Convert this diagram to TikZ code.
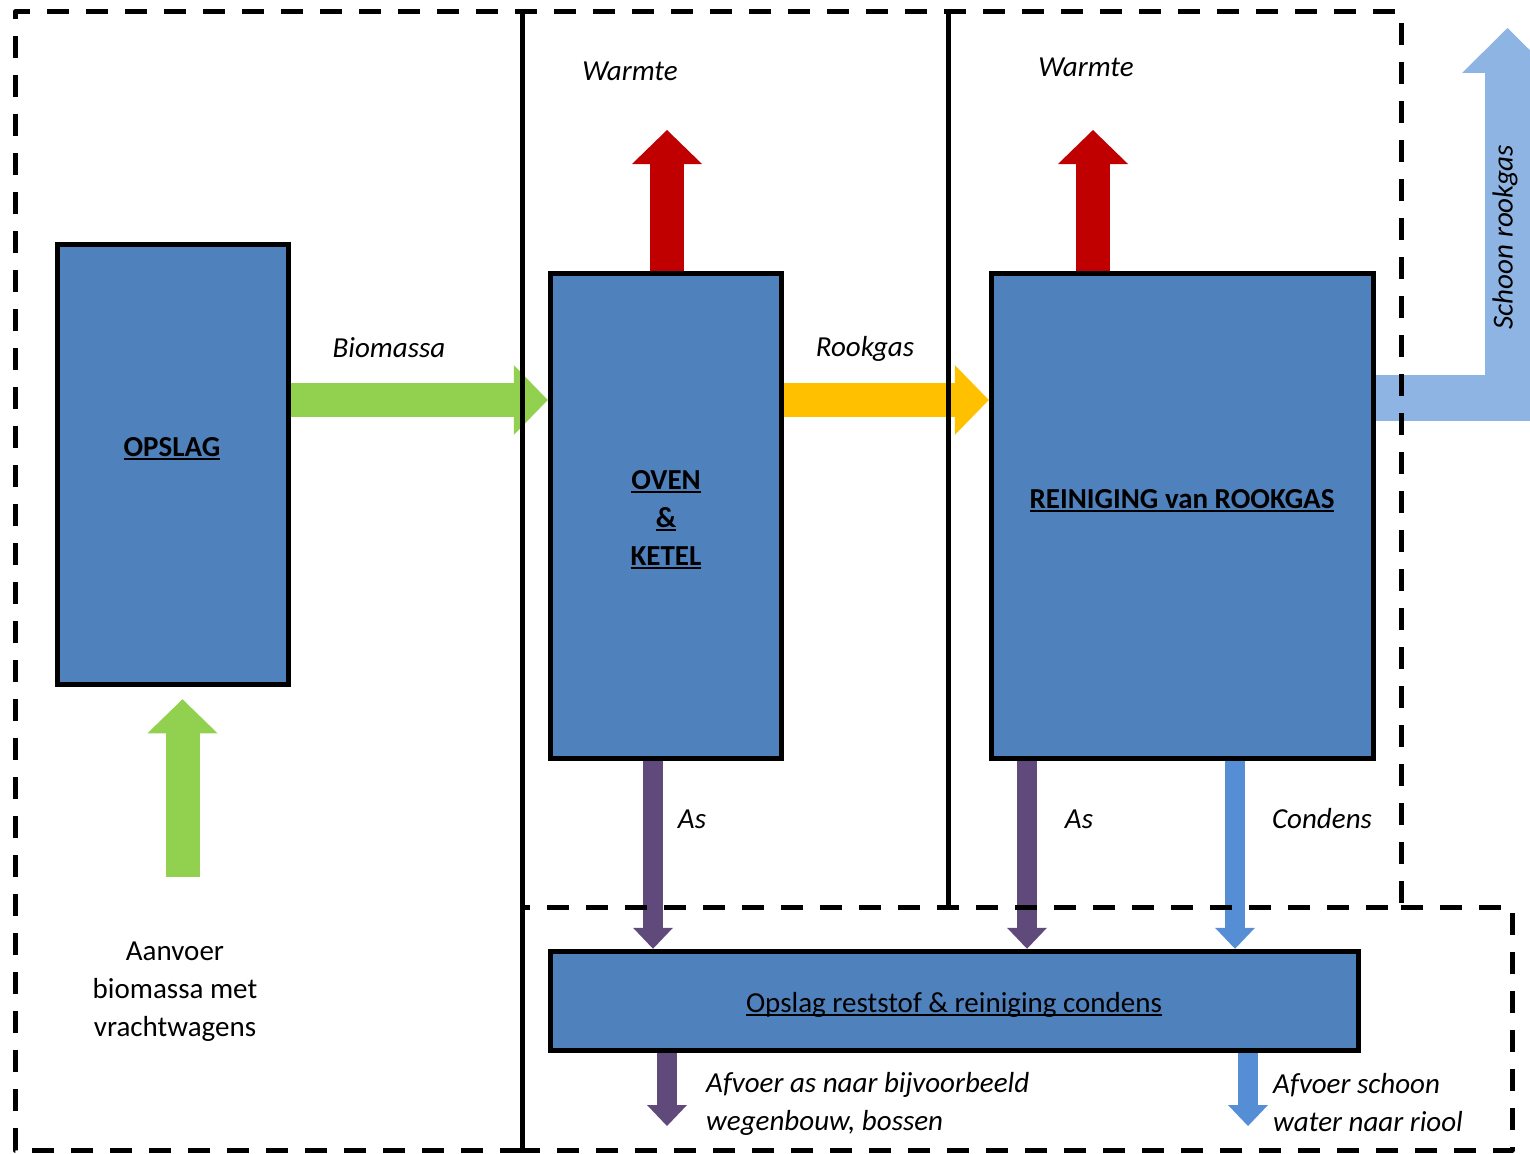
\documentclass[tikz,border=0pt]{standalone}
\usepackage{fontspec}
\setmainfont{Carlito}
\usetikzlibrary{arrows.meta,calc}
\pgfdeclarelayer{bg}
\pgfsetlayers{bg,main}
\definecolor{boxblue}{HTML}{4F81BD}
\definecolor{biogreen}{HTML}{92D050}
\definecolor{gasyellow}{HTML}{FFC000}
\definecolor{heatred}{HTML}{C00000}
\definecolor{ashpurple}{HTML}{604A7B}
\definecolor{cleanblue}{HTML}{8EB4E3}
\definecolor{condblue}{HTML}{558ED5}
\newcommand\ulbox[1]{\setbox0\hbox{#1}\makebox[0pt][l]{\rule[-0.12em]{\wd0}{0.07em}}\box0}
\tikzset{
  procbox/.style={draw=black, line width=5.5pt, fill=boxblue, inner sep=0pt},
  lbl/.style={inner sep=0pt, text=black, font=\fontsize{29}{38}\selectfont},
  ilbl/.style={lbl, font=\fontsize{29}{38}\selectfont\itshape},
  blbl/.style={lbl, font=\fontsize{29}{38}\selectfont\bfseries},
  bigarrow/.style={line width=34pt, arrows={-Triangle[length=34pt,width=70pt,line width=0pt]}},
  smallarrow/.style={line width=20pt, arrows={-Triangle[length=21pt,width=40pt,line width=0pt]}},
  exhaust/.style={line width=46pt, line join=miter, arrows={-Triangle[length=45pt,width=91pt,line width=0pt]}},
  dashline/.style={line width=5pt, dash pattern=on 22pt off 17pt, line join=round},
  solidline/.style={line width=5pt}
}
\begin{document}
\begin{tikzpicture}[x=1pt,y=-1pt]
\useasboundingbox (0,0) rectangle (1530,1153);
% boxes
\node[procbox, minimum width=231pt, minimum height=440pt] (opslag) at (173,464.5) {};
\node[procbox, minimum width=231pt, minimum height=485pt] (oven) at (666,516) {};
\node[procbox, minimum width=382pt, minimum height=485pt] (rein) at (1182.5,516) {};
\node[procbox, minimum width=808pt, minimum height=99pt] (reststof) at (954.5,1001) {};
% box texts
\node[blbl] (topslag) at (172,448.5) {\ulbox{OPSLAG}};
\node[blbl, align=center] (toven) at (666,519.5) {\ulbox{OVEN}\\\ulbox{\&}\\\ulbox{KETEL}};
\node[blbl] (trein) at (1182,500.5) {\ulbox{REINIGING van ROOKGAS}};
\node[lbl] (treststof) at (954,1004.5) {\ulbox{Opslag reststof \& reiniging condens}};
% coordinates for arrow ends
\coordinate (yb) at (0,400);
\coordinate (heat1) at (667,130);
\coordinate (heat2) at (1093,130);
\coordinate (supply) at (182.5,877);
\coordinate (as1) at (653,0);
\coordinate (as2) at (1027,0);
\coordinate (cond) at (1235,0);
\coordinate (out1) at (667,1126);
\coordinate (out2) at (1248,1126);
\coordinate (sy) at (0,398);
\coordinate (stip) at (1507.5,28);
\begin{pgfonlayer}{bg}
\draw[bigarrow, biogreen] (opslag.east |- yb) -- (oven.west |- yb);
\draw[bigarrow, gasyellow] (oven.east |- yb) -- (rein.west |- yb);
\draw[bigarrow, heatred] (oven.north -| heat1) -- (heat1);
\draw[bigarrow, heatred] (rein.north -| heat2) -- (heat2);
\draw[bigarrow, biogreen, shorten >=12pt] (supply) -- (opslag.south -| supply);
\draw[smallarrow, ashpurple] (oven.south -| as1) -- (reststof.north -| as1);
\draw[smallarrow, ashpurple] (rein.south -| as2) -- (reststof.north -| as2);
\draw[smallarrow, condblue] (rein.south -| cond) -- (reststof.north -| cond);
\draw[smallarrow, ashpurple] (reststof.south -| out1) -- (out1);
\draw[smallarrow, condblue] (reststof.south -| out2) -- (out2);
\draw[exhaust, cleanblue] (rein.east |- sy) -| (stip);
\end{pgfonlayer}
% labels
\node[ilbl] (lw1) at (630,71) {Warmte};
\node[ilbl] (lw2) at (1086,67) {Warmte};
\node[ilbl] (lbio) at (389,348) {Biomassa};
\node[ilbl] (lrook) at (865,349) {Rookgas};
\node[ilbl] (las1) at (692,819) {As};
\node[ilbl] (las2) at (1079,819) {As};
\node[ilbl] (lcond) at (1322,819) {Condens};
\node[ilbl, rotate=90] (lschoon) at (1505,237) {Schoon rookgas};
\node[lbl, align=center] (laanvoer) at (175,992) {Aanvoer\\biomassa met\\vrachtwagens};
\node[ilbl, align=left, anchor=west] (lafvoer1) at (706,1104) {Afvoer as naar bijvoorbeeld\\wegenbouw, bossen};
\node[ilbl, align=left, anchor=west] (lafvoer2) at (1273,1103) {Afvoer schoon\\water naar riool};
% frames
\draw[dashline] (522,1150) -- (15,1150) -- (15,12) -- (1401,12) -- (1401,907) -- (522,907);
\draw[dashline] (1401,907) -- (1512,907) -- (1512,1150) -- (522,1150);
\draw[solidline] (522,12) -- (522,1150);
\draw[solidline] (948,12) -- (948,907);
\end{tikzpicture}
\end{document}
